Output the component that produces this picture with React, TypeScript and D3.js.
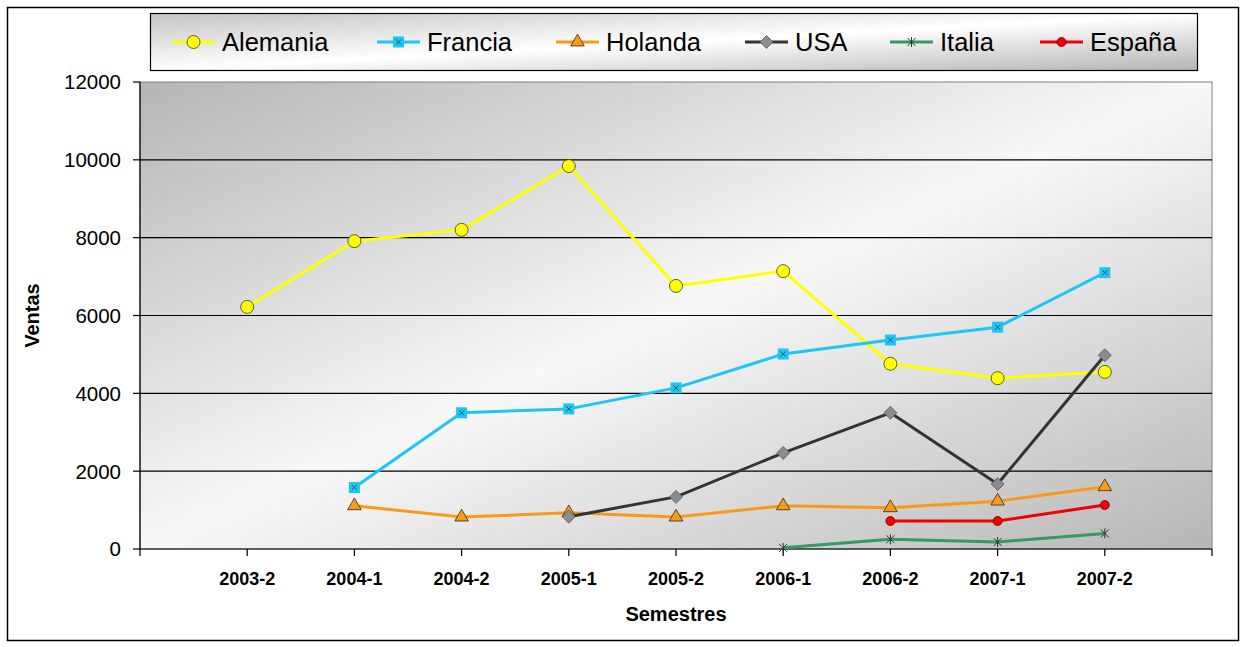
import React from 'react';
import * as d3 from 'd3';

const semestres = ['2003-2', '2004-1', '2004-2', '2005-1', '2005-2', '2006-1', '2006-2', '2007-1', '2007-2'];

// valores por semestre (null = sin dato)
const alemania = [6220, 7910, 8200, 9840, 6760, 7140, 4760, 4390, 4550];
const francia = [null, 1580, 3500, 3600, 4140, 5010, 5370, 5700, 7100];
const holanda = [null, 1110, 820, 930, 820, 1110, 1060, 1230, 1600];
const usa = [null, null, null, 830, 1340, 2470, 3500, 1670, 4980];
const italia = [null, null, null, null, null, 30, 250, 180, 400];
const espana = [null, null, null, null, null, null, 720, 720, 1130];

const yTicks = [0, 2000, 4000, 6000, 8000, 10000, 12000];

type Shape = 'circle' | 'square' | 'triangle' | 'diamond' | 'star' | 'dot';

const series: { name: string; values: (number | null)[]; color: string; shape: Shape }[] = [
  { name: 'Alemania', values: alemania, color: '#ffff00', shape: 'circle' },
  { name: 'Francia', values: francia, color: '#1fc6f2', shape: 'square' },
  { name: 'Holanda', values: holanda, color: '#f59b1c', shape: 'triangle' },
  { name: 'USA', values: usa, color: '#333333', shape: 'diamond' },
  { name: 'Italia', values: italia, color: '#339966', shape: 'star' },
  { name: 'España', values: espana, color: '#f00000', shape: 'dot' },
];

const legendX = [172, 377, 556, 745, 890, 1040];

const FONT = '"Liberation Sans", Arial, sans-serif';

const Marker: React.FC<{ shape: Shape; x: number; y: number }> = ({ shape, x, y }) => {
  switch (shape) {
    case 'circle':
      return <circle cx={x} cy={y} r={6.5} fill="#ffff00" stroke="#3a3a1a" strokeWidth={0.8} />;
    case 'square':
      return (
        <g transform={`translate(${x},${y})`}>
          <rect x={-5.5} y={-5.5} width={11} height={11} fill="#1fc6f2" />
          <path d="M-2.5,-2.5L2.5,2.5M-2.5,2.5L2.5,-2.5" stroke="#1a3a4a" strokeWidth={0.8} />
        </g>
      );
    case 'triangle':
      return (
        <path
          transform={`translate(${x},${y})`}
          d={d3.symbol(d3.symbolTriangle, 80)()!}
          fill="#f59b1c"
          stroke="#3a2a10"
          strokeWidth={0.8}
        />
      );
    case 'diamond':
      return (
        <path
          transform={`translate(${x},${y})`}
          d="M0,-6.5L6.5,0L0,6.5L-6.5,0Z"
          fill="#8c8c8c"
          stroke="#555555"
          strokeWidth={0.8}
        />
      );
    case 'star':
      return (
        <path
          transform={`translate(${x},${y})`}
          d="M-4,-4L4,4M-4,4L4,-4M0,-5L0,5"
          stroke="#333333"
          strokeWidth={1}
        />
      );
    default:
      return <circle cx={x} cy={y} r={4.5} fill="#f00000" stroke="#7a0000" strokeWidth={0.8} />;
  }
};

export default function App() {
  const width = 1246;
  const height = 647;
  const plot = { left: 140, right: 1212, top: 82, bottom: 549 };

  const x = d3.scalePoint<string>().domain(semestres).range([plot.left, plot.right]).padding(1);
  const y = d3.scaleLinear().domain([0, 12000]).range([plot.bottom, plot.top]);
  const step = x.step();
  const xTickPos = d3.range(semestres.length + 2).map((i) => plot.left + i * step);

  const line = d3
    .line<number | null>()
    .defined((d) => d !== null)
    .x((_, i) => x(semestres[i])!)
    .y((d) => y(d as number));

  return (
    <svg
      width={width}
      height={height}
      style={{ position: 'absolute', left: 0, top: 0, fontFamily: FONT }}
    >
      <defs>
        <linearGradient id="plotBg" x1="0" y1="0" x2="1" y2="1">
          <stop offset="0" stopColor="#b6b6b6" />
          <stop offset="0.5" stopColor="#f8f8f8" />
          <stop offset="1" stopColor="#b6b6b6" />
        </linearGradient>
        <linearGradient id="legBg" x1="0" y1="0" x2="1" y2="1">
          <stop offset="0" stopColor="#c4c4c4" />
          <stop offset="0.5" stopColor="#ffffff" />
          <stop offset="1" stopColor="#b4b4b4" />
        </linearGradient>
      </defs>
      <rect x={0} y={0} width={width} height={height} fill="#ffffff" />
      <rect x={7.5} y={7.5} width={1231} height={633} fill="#ffffff" stroke="#000" strokeWidth={1.5} />

      {/* area del grafico */}
      <rect
        x={plot.left}
        y={plot.top}
        width={plot.right - plot.left}
        height={plot.bottom - plot.top}
        fill="url(#plotBg)"
        stroke="#808080"
        strokeWidth={1}
      />
      {yTicks.slice(1, -1).map((t) => (
        <line key={t} x1={plot.left} x2={plot.right} y1={y(t)} y2={y(t)} stroke="#000" strokeWidth={1.2} />
      ))}

      {/* ejes */}
      <line x1={plot.left} x2={plot.left} y1={plot.top} y2={plot.bottom} stroke="#000" strokeWidth={1.2} />
      <line x1={plot.left} x2={plot.right} y1={plot.bottom} y2={plot.bottom} stroke="#000" strokeWidth={1.2} />
      {yTicks.map((t) => (
        <g key={t}>
          <line x1={plot.left - 7} x2={plot.left} y1={y(t)} y2={y(t)} stroke="#000" strokeWidth={1.2} />
          <text x={121} y={y(t)} dy="0.36em" textAnchor="end" fontSize={20.5}>
            {t}
          </text>
        </g>
      ))}
      {xTickPos.map((p, i) => (
        <line key={i} x1={p} x2={p} y1={plot.bottom} y2={plot.bottom + 7} stroke="#000" strokeWidth={1.2} />
      ))}
      {semestres.map((s) => (
        <text key={s} x={x(s)} y={585} textAnchor="middle" fontSize={18} fontWeight="bold">
          {s}
        </text>
      ))}
      <text x={676} y={621} textAnchor="middle" fontSize={20} fontWeight="bold">
        Semestres
      </text>
      <text
        transform={`translate(39,${(plot.top + plot.bottom) / 2}) rotate(-90)`}
        textAnchor="middle"
        fontSize={20}
        fontWeight="bold"
      >
        Ventas
      </text>

      {/* series */}
      {series.map((s) => (
        <g key={s.name}>
          <path d={line(s.values)!} fill="none" stroke={s.color} strokeWidth={3} strokeLinejoin="round" />
          {s.values.map((v, i) =>
            v === null ? null : <Marker key={i} shape={s.shape} x={x(semestres[i])!} y={y(v)} />
          )}
        </g>
      ))}

      {/* leyenda */}
      <rect x={150.5} y={13.5} width={1047} height={57} fill="url(#legBg)" stroke="#000" strokeWidth={1.2} />
      {series.map((s, i) => (
        <g key={s.name}>
          <line x1={legendX[i]} x2={legendX[i] + 43} y1={42} y2={42} stroke={s.color} strokeWidth={3} />
          <Marker shape={s.shape} x={legendX[i] + 21.5} y={42} />
          <text x={legendX[i] + 50} y={51} fontSize={25.5}>
            {s.name}
          </text>
        </g>
      ))}
    </svg>
  );
}
